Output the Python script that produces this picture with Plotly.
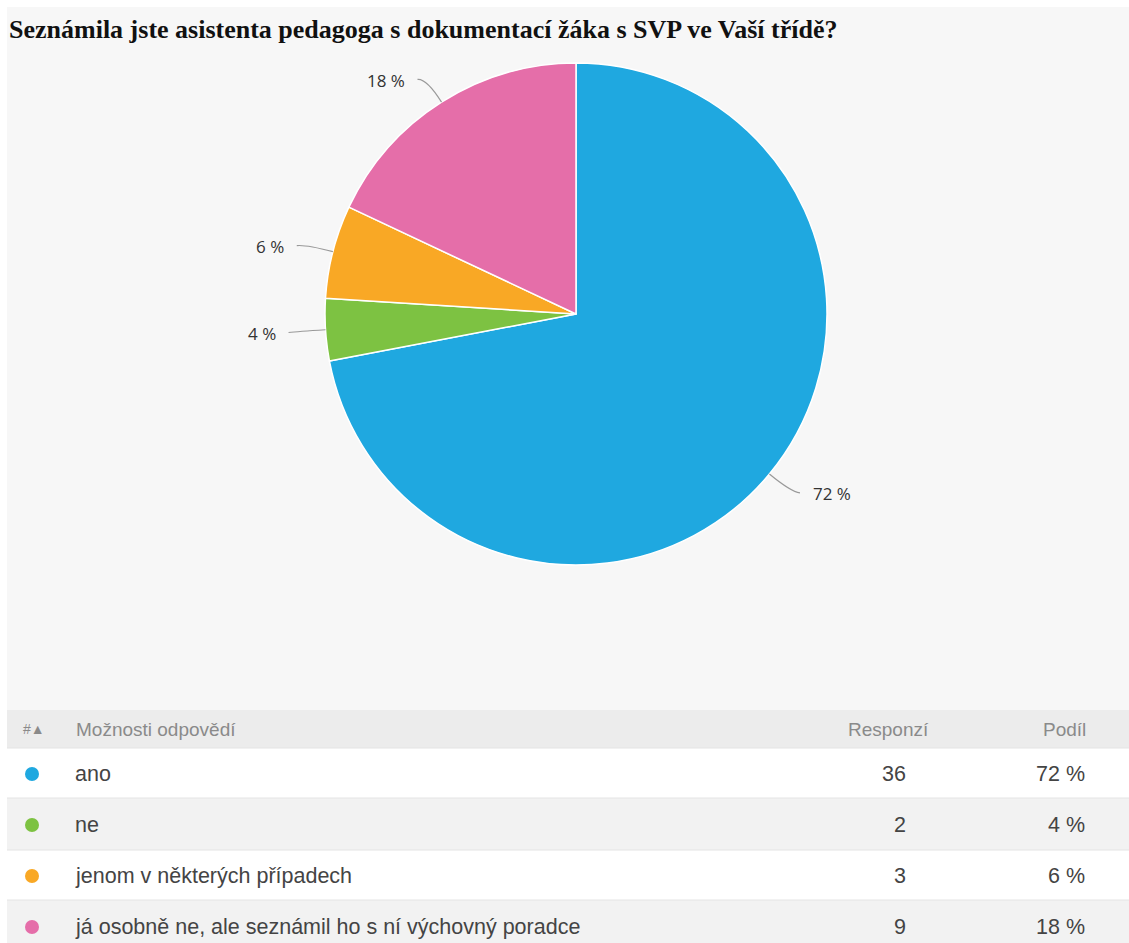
import math
import plotly.graph_objects as go

# Survey answers
answers = ["ano", "ne", "jenom v některých případech",
           "já osobně ne, ale seznámil ho s ní výchovný poradce"]
responses = [36, 2, 3, 9]
shares = [72, 4, 6, 18]
colors = ["#1fa8e0", "#7dc242", "#f9a825", "#e56ea9"]
title = "Seznámila jste asistenta pedagoga s dokumentací žáka s SVP ve Vaší třídě?"
header = ["#", "Možnosti odpovědí", "Responzí", "Podíl"]

W, H = 1129, 943
cx, cy, R = 576, 314, 251  # pie centre and radius in pixels


def px(x):
    return x / W


def py(y):
    return 1 - y / H


fig = go.Figure()
fig.add_trace(go.Pie(
    labels=answers, values=responses, sort=False, direction="clockwise",
    rotation=0, marker=dict(colors=colors, line=dict(color="#ffffff", width=1.5)),
    textinfo="none", hoverinfo="label+percent", showlegend=False,
    domain=dict(x=[px(cx - R), px(cx + R)], y=[py(cy + R), py(cy - R)]),
))

shapes = []
annotations = []

# grey panel inside a thin white page frame
shapes.append(dict(type="rect", xref="paper", yref="paper", x0=px(7), x1=1, y0=0, y1=py(7),
                   fillcolor="#f7f7f7", line=dict(width=0), layer="below"))

# outside labels with leader lines
total = sum(responses)
start = 0.0
for v, s in zip(responses, shares):
    frac = v / total
    mid = (start + frac / 2) * 2 * math.pi
    start += frac
    sx, cy_ = math.sin(mid), math.cos(mid)
    x0, y0 = cx + R * sx, cy - R * cy_
    x1, y1 = cx + (R + 28) * sx, cy - (R + 28) * cy_
    side = 1 if sx >= 0 else -1
    x2 = x1 + side * 9
    shapes.append(dict(type="path", xref="paper", yref="paper",
                       path=f"M {px(x0)},{py(y0)} Q {px(x1)},{py(y1)} {px(x2)},{py(y1 + 1)}",
                       line=dict(color="#999999", width=1.2)))
    annotations.append(dict(xref="paper", yref="paper", x=px(x2 + side * 11), y=py(y1 + 2),
                            text=f"{s} %", showarrow=False,
                            xanchor="left" if side > 0 else "right", yanchor="middle",
                            font=dict(family="Open Sans", size=17, color="#333333")))

# title
annotations.append(dict(xref="paper", yref="paper", x=px(7), y=py(30), text=f"<b>{title}</b>",
                        showarrow=False, xanchor="left", yanchor="middle",
                        font=dict(family="Liberation Serif", size=26, color="#111111")))

# results table
row_edges = [710, 748, 798, 850, 900, 952]
fills = ["#ececec", "#ffffff", "#f2f2f2", "#ffffff", "#f2f2f2"]
for i in range(5):
    shapes.append(dict(type="rect", xref="paper", yref="paper", x0=px(7), x1=1,
                       y0=py(row_edges[i + 1]), y1=py(row_edges[i]),
                       fillcolor=fills[i], line=dict(width=0), layer="below"))
    if i > 0:
        shapes.append(dict(type="line", xref="paper", yref="paper", x0=px(7), x1=1,
                           y0=py(row_edges[i]), y1=py(row_edges[i]),
                           line=dict(color="#e4e4e4", width=1), layer="below"))

hcy = (row_edges[0] + row_edges[1]) / 2
hfont = dict(family="Liberation Sans", size=19, color="#8a8a8a")
annotations.append(dict(xref="paper", yref="paper", x=px(21), y=py(hcy), text=header[0] + "▲",
                        showarrow=False, xanchor="left", yanchor="middle",
                        font=dict(family="Liberation Sans", size=14, color="#8a8a8a")))
annotations.append(dict(xref="paper", yref="paper", x=px(74), y=py(hcy), text=header[1],
                        showarrow=False, xanchor="left", yanchor="middle", font=hfont))
annotations.append(dict(xref="paper", yref="paper", x=px(931), y=py(hcy), text=header[2],
                        showarrow=False, xanchor="right", yanchor="middle", font=hfont))
annotations.append(dict(xref="paper", yref="paper", x=px(1088), y=py(hcy), text=header[3],
                        showarrow=False, xanchor="right", yanchor="middle", font=hfont))

rfont = dict(family="Liberation Sans", size=21.5, color="#444444")
for i, (a, r, s, c) in enumerate(zip(answers, responses, shares, colors)):
    yc = (row_edges[i + 1] + row_edges[i + 2]) / 2 + 1
    shapes.append(dict(type="circle", xref="paper", yref="paper",
                       x0=px(32 - 7), x1=px(32 + 7), y0=py(yc + 7), y1=py(yc - 7),
                       fillcolor=c, line=dict(width=0)))
    annotations.append(dict(xref="paper", yref="paper", x=px(73), y=py(yc), text=a,
                            showarrow=False, xanchor="left", yanchor="middle", font=rfont))
    annotations.append(dict(xref="paper", yref="paper", x=px(908), y=py(yc), text=str(r),
                            showarrow=False, xanchor="right", yanchor="middle", font=rfont))
    annotations.append(dict(xref="paper", yref="paper", x=px(1087), y=py(yc), text=f"{s} %",
                            showarrow=False, xanchor="right", yanchor="middle", font=rfont))

fig.update_layout(
    width=W, height=H, margin=dict(l=0, r=0, t=0, b=0),
    paper_bgcolor="#ffffff", plot_bgcolor="#ffffff",
    shapes=shapes, annotations=annotations,
)

fig.write_html("out.html")
